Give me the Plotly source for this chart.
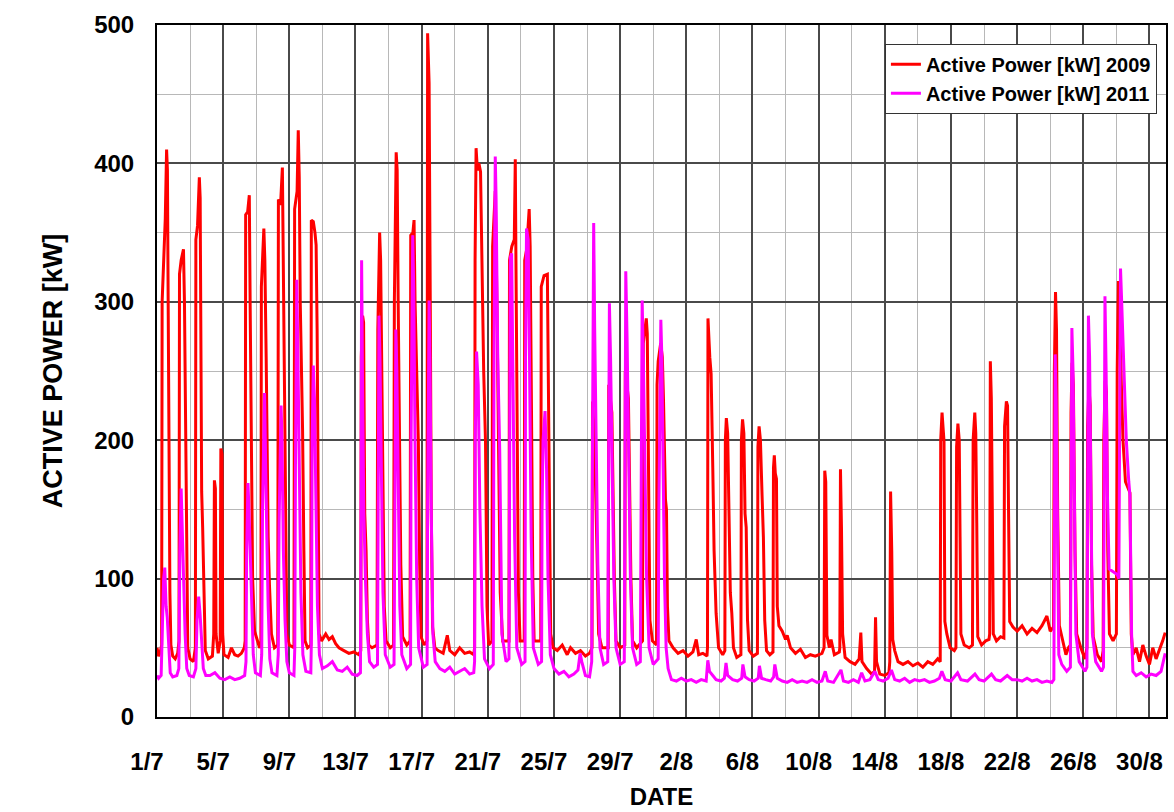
import plotly.graph_objects as go

# x = days since 1 July (0 = 1/7 00:00), y = active power [kW]
tick_days = [0, 4, 8, 12, 16, 20, 24, 28, 32, 36, 40, 44, 48, 52, 56, 60]
tick_labels = ["1/7", "5/7", "9/7", "13/7", "17/7", "21/7", "25/7", "29/7",
               "2/8", "6/8", "10/8", "14/8", "18/8", "22/8", "26/8", "30/8"]
minor_days = [2, 6, 10, 14, 18, 22, 26, 30, 34, 38, 42, 46, 50, 54, 58]

power_2009 = [
(0.00,50),(0.10,44),(0.20,47),(0.28,52),(0.31,300),(0.40,335),(0.50,360),(0.58,410),(0.63,395),(0.68,290),(0.73,170),(0.78,90),(0.84,52),(0.95,44),(1.10,42),(1.25,46),
(1.33,55),(1.36,320),(1.46,330),(1.60,338),(1.66,300),(1.72,230),(1.78,110),(1.86,50),(2.00,42),(2.20,40),(2.32,50),
(2.35,345),(2.45,355),(2.56,390),(2.61,375),(2.70,163),(2.76,137),(2.84,80),(2.92,48),(3.10,42),(3.35,44),
(3.43,60),(3.47,171),(3.53,165),(3.57,60),(3.70,46),(3.82,55),(3.86,194),(3.93,190),(3.97,60),(4.05,45),(4.30,43),(4.50,50),(4.70,45),(4.90,44),(5.10,46),(5.28,50),
(5.33,55),(5.36,363),(5.48,365),(5.58,377),(5.63,300),(5.70,169),(5.78,100),(5.90,62),(6.05,55),(6.20,50),(6.28,52),
(6.31,311),(6.46,353),(6.52,330),(6.60,260),(6.66,190),(6.72,130),(6.80,95),(6.92,60),(7.10,50),(7.30,52),
(7.34,374),(7.47,370),(7.58,397),(7.63,330),(7.70,210),(7.76,120),(7.85,60),(8.00,52),(8.28,50),
(8.32,367),(8.47,380),(8.54,424),(8.60,390),(8.66,300),(8.80,208),(8.88,120),(8.95,55),(9.10,50),(9.30,52),
(9.33,359),(9.45,358),(9.55,350),(9.62,341),(9.68,280),(9.74,150),(9.80,60),(9.95,55),(10.20,60),(10.40,56),(10.60,58),(10.80,53),(11.00,50),(11.30,48),(11.60,46),(11.90,47),(12.20,45),
(12.32,48),(12.35,260),(12.43,290),(12.49,285),(12.56,147),(12.64,120),(12.72,70),(12.80,52),(13.00,50),(13.30,52),
(13.35,280),(13.46,350),(13.52,330),(13.60,240),(13.66,150),(13.74,80),(13.85,55),(14.10,50),(14.30,52),
(14.35,300),(14.46,408),(14.52,395),(14.58,300),(14.66,200),(14.74,110),(14.85,58),(15.10,52),(15.30,55),
(15.34,348),(15.47,350),(15.54,359),(15.60,300),(15.70,240),(15.80,199),(15.88,110),(15.96,58),(16.15,52),(16.32,55),
(16.36,494),(16.45,458),(16.52,300),(16.58,150),(16.66,65),(16.80,50),(17.00,48),(17.30,46),(17.55,59),(17.70,48),(18.00,45),(18.30,50),(18.60,46),(18.90,47),(19.15,45),
(19.20,50),(19.23,330),(19.29,411),(19.37,395),(19.46,400),(19.56,394),(19.64,329),(19.75,250),(19.86,199),(19.95,80),(20.05,52),
(20.25,55),(20.29,340),(20.45,380),(20.55,300),(20.65,200),(20.75,90),(20.90,55),
(21.28,55),(21.31,330),(21.45,340),(21.60,345),(21.66,403),(21.70,330),(21.76,200),(21.85,90),(21.95,55),
(22.20,55),(22.23,330),(22.35,338),(22.50,367),(22.56,340),(22.64,221),(22.72,100),(22.80,55),
(23.20,55),(23.23,311),(23.40,319),(23.60,320),(23.66,250),(23.72,150),(23.80,60),(23.95,50),(24.20,48),(24.50,52),(24.80,45),(25.00,50),(25.30,46),(25.60,48),(25.90,44),(26.15,46),
(26.30,50),(26.33,228),(26.45,200),(26.60,120),(26.70,60),(26.90,50),
(27.28,50),(27.31,240),(27.50,220),(27.65,100),(27.75,55),(28.00,50),
(28.28,52),(28.31,250),(28.50,230),(28.65,100),(28.75,55),(29.00,50),
(29.35,55),(29.40,270),(29.58,288),(29.64,277),(29.72,150),(29.80,70),(29.95,55),
(30.20,52),(30.23,240),(30.30,257),(30.45,270),(30.55,260),(30.62,230),(30.74,157),(30.80,150),(30.86,80),(30.95,55),
(31.20,50),(31.50,46),(31.80,48),(32.10,44),(32.40,47),(32.60,56),(32.75,45),(33.00,46),(33.25,44),
(33.28,50),(33.31,288),(33.42,260),(33.50,248),(33.60,180),(33.68,120),(33.80,75),(33.95,50),(34.20,45),(34.33,48),
(34.36,200),(34.42,216),(34.50,205),(34.58,140),(34.66,90),(34.75,75),(34.85,50),(35.05,43),(35.30,45),
(35.33,200),(35.40,215),(35.48,205),(35.55,147),(35.62,137),(35.70,70),(35.80,48),(36.05,44),(36.30,46),
(36.33,195),(36.40,210),(36.48,200),(36.58,160),(36.66,130),(36.74,70),(36.85,48),(37.05,45),(37.24,47),
(37.27,180),(37.32,189),(37.38,176),(37.45,172),(37.50,80),(37.60,66),(37.80,62),(38.00,56),(38.10,59),(38.30,50),(38.60,46),(38.90,49),(39.20,43),(39.50,45),(39.80,44),(40.20,46),
(40.33,50),(40.37,178),(40.43,170),(40.50,59),(40.65,50),(40.75,56),(40.95,45),(41.25,47),
(41.28,50),(41.32,179),(41.38,137),(41.45,60),(41.60,43),(41.90,40),(42.20,38),(42.45,42),(42.55,61),(42.62,40),(42.90,35),(43.20,31),(43.38,33),(43.44,72),(43.50,40),(43.70,31),(44.00,30),(44.25,32),
(44.30,40),(44.35,163),(44.42,120),(44.48,56),(44.60,48),(44.80,40),(45.10,38),(45.40,40),(45.70,37),(46.00,39),(46.30,36),(46.60,40),(46.90,38),(47.20,42),(47.35,40),
(47.38,200),(47.46,220),(47.53,210),(47.58,199),(47.63,69),(47.75,60),(47.95,50),(48.20,48),(48.30,50),
(48.34,195),(48.42,212),(48.50,200),(48.55,130),(48.60,60),(48.80,52),(49.10,50),(49.30,52),
(49.34,200),(49.44,220),(49.50,205),(49.56,140),(49.62,58),(49.85,52),(50.10,55),(50.30,56),
(50.34,60),(50.38,257),(50.44,230),(50.50,150),(50.56,60),(50.75,55),(51.00,58),(51.20,57),
(51.24,210),(51.35,228),(51.42,225),(51.48,150),(51.55,69),(51.75,65),(52.00,62),(52.30,66),(52.60,60),(52.90,64),(53.20,61),(53.50,66),(53.80,73),(54.00,62),(54.20,65),
(54.25,250),(54.32,307),(54.38,280),(54.45,150),(54.55,66),(54.75,55),(54.95,45),(55.10,50),(55.22,52),
(55.26,220),(55.32,256),(55.40,240),(55.50,120),(55.60,60),(55.85,50),(56.10,42),(56.22,50),
(56.26,210),(56.34,238),(56.42,225),(56.50,110),(56.60,58),(56.85,45),(57.10,40),(57.20,48),
(57.24,200),(57.32,243),(57.40,235),(57.48,120),(57.58,60),(57.80,55),(58.00,60),(58.05,250),(58.12,315),(58.20,300),(58.30,240),(58.40,200),(58.55,170),(58.75,165),(58.82,162),(58.90,60),(59.00,45),(59.20,50),(59.40,40),(59.60,52),(59.80,44),(60.00,38),(60.20,50),(60.40,42),(60.60,48),(60.80,55),(60.95,61),
]

power_2011 = [
(0.00,30),(0.10,28),(0.25,30),(0.30,60),(0.40,100),(0.47,108),(0.55,80),(0.62,72),(0.70,55),(0.80,32),(0.95,29),(1.20,30),
(1.32,35),(1.38,120),(1.46,165),(1.52,140),(1.60,90),(1.70,60),(1.80,35),(1.95,30),(2.20,29),
(2.35,35),(2.42,70),(2.52,87),(2.60,75),(2.70,55),(2.80,35),(2.95,30),(3.20,30),(3.50,32),(3.80,28),(4.10,27),(4.40,29),(4.70,27),(5.00,28),(5.30,30),
(5.38,40),(5.42,120),(5.50,169),(5.56,150),(5.64,117),(5.72,80),(5.82,45),(5.95,32),(6.25,30),
(6.33,45),(6.38,150),(6.50,234),(6.56,200),(6.64,130),(6.72,80),(6.82,42),(6.95,32),(7.25,30),
(7.33,45),(7.38,140),(7.50,225),(7.56,200),(7.64,120),(7.74,70),(7.85,40),(8.00,32),(8.28,30),
(8.33,50),(8.37,180),(8.45,316),(8.52,260),(8.60,160),(8.70,90),(8.82,45),(9.00,33),(9.30,32),
(9.34,60),(9.38,200),(9.45,254),(9.52,230),(9.60,150),(9.70,80),(9.82,45),(10.00,35),(10.30,37),(10.60,40),(10.90,34),(11.20,33),(11.50,36),(11.80,31),(12.10,30),(12.30,32),
(12.33,120),(12.37,330),(12.42,250),(12.50,150),(12.60,100),(12.72,60),(12.85,40),(13.10,36),(13.33,38),
(13.36,150),(13.42,290),(13.48,260),(13.56,160),(13.66,90),(13.80,45),(14.10,36),(14.33,38),
(14.36,150),(14.44,280),(14.50,250),(14.58,160),(14.68,80),(14.80,45),(15.10,35),(15.33,38),
(15.36,200),(15.46,348),(15.52,310),(15.60,200),(15.70,100),(15.82,50),(16.10,36),(16.33,38),
(16.36,150),(16.45,301),(16.50,260),(16.58,150),(16.68,60),(16.82,40),(17.10,35),(17.40,33),(17.70,36),(18.00,31),(18.30,33),(18.60,35),(18.90,31),(19.15,32),
(19.20,40),(19.24,200),(19.32,264),(19.42,240),(19.52,150),(19.65,80),(19.80,42),(20.10,35),(20.33,38),
(20.37,250),(20.45,405),(20.50,374),(20.60,260),(20.72,192),(20.85,60),(21.10,40),(21.28,42),
(21.31,250),(21.36,332),(21.44,335),(21.52,250),(21.62,130),(21.75,50),(22.05,38),(22.25,40),
(22.28,260),(22.34,353),(22.44,345),(22.52,260),(22.62,130),(22.75,50),(23.05,38),(23.25,40),
(23.28,150),(23.34,200),(23.46,221),(23.55,180),(23.64,100),(23.78,45),(24.00,35),(24.30,31),(24.60,33),(24.90,29),(25.20,31),(25.45,34),(25.58,46),(25.68,40),(25.90,30),(26.15,29),
(26.28,40),(26.33,200),(26.40,357),(26.46,281),(26.55,200),(26.65,110),(26.78,50),(27.00,38),(27.25,40),
(27.28,150),(27.35,299),(27.42,260),(27.50,200),(27.62,100),(27.75,50),(28.00,38),(28.25,40),
(28.28,150),(28.34,322),(28.42,273),(28.52,200),(28.62,100),(28.75,50),(29.00,38),(29.22,40),
(29.25,150),(29.33,301),(29.40,260),(29.50,180),(29.60,100),(29.75,50),(30.00,38),(30.30,42),
(30.34,150),(30.46,287),(30.52,260),(30.60,180),(30.68,100),(30.78,50),(30.90,35),(31.10,27),(31.40,26),(31.70,28),(32.00,26),(32.30,27),(32.60,25),(32.90,27),(33.20,26),
(33.30,41),(33.40,33),(33.60,30),(33.80,27),(34.10,26),(34.30,28),(34.40,39),(34.50,30),(34.80,27),(35.10,26),(35.35,28),(35.42,38),(35.55,29),(35.80,27),(36.10,26),(36.35,28),(36.42,37),(36.55,28),(36.80,27),(37.10,26),(37.28,29),(37.35,38),(37.50,28),(37.80,26),(38.10,25),(38.40,27),(38.70,25),(39.00,26),(39.30,25),(39.60,27),(39.90,25),(40.20,26),
(40.40,33),(40.55,26),(40.90,25),(41.35,34),(41.50,26),(41.80,25),(42.10,27),(42.40,25),(42.60,32),(42.80,26),(43.10,27),(43.40,33),(43.60,27),(43.90,26),(44.20,28),(44.40,34),(44.60,27),(44.90,26),(45.20,28),(45.50,25),(45.80,27),(46.10,26),(46.40,27),(46.70,25),(47.00,26),(47.30,28),
(47.45,33),(47.65,27),(48.00,26),(48.40,32),(48.60,27),(49.00,26),(49.45,31),(49.70,27),(50.00,26),(50.45,31),(50.70,27),(51.00,26),(51.40,30),(51.70,27),(52.00,27),(52.30,26),(52.60,28),(52.90,26),(53.20,27),(53.50,25),(53.80,26),(54.10,25),(54.22,27),
(54.25,150),(54.30,262),(54.36,230),(54.44,120),(54.52,45),(54.70,38),(55.00,33),(55.22,36),
(55.25,200),(55.31,281),(55.38,250),(55.46,150),(55.55,60),(55.75,40),(56.10,33),(56.22,36),
(56.25,200),(56.31,290),(56.38,260),(56.46,150),(56.55,60),(56.75,40),(57.10,33),(57.22,36),
(57.25,200),(57.31,304),(57.38,250),(57.46,160),(57.56,107),(57.80,105),(58.05,103),(58.15,100),(58.20,200),(58.25,324),(58.32,300),(58.45,250),(58.60,200),(58.75,170),(58.82,160),(58.92,60),(59.00,33),(59.20,30),(59.50,32),(59.80,29),(60.10,31),(60.40,30),(60.70,33),(60.95,46),
]

day_2009 = [p[0] for p in power_2009]
kw_2009 = [p[1] for p in power_2009]
day_2011 = [p[0] for p in power_2011]
kw_2011 = [p[1] for p in power_2011]

FONT = "Liberation Sans, Arial, sans-serif"

fig = go.Figure()
fig.add_trace(go.Scatter(x=day_2009, y=kw_2009, mode="lines",
                         name="Active Power [kW] 2009",
                         line=dict(color="#ff0000", width=3)))
fig.add_trace(go.Scatter(x=day_2011, y=kw_2011, mode="lines",
                         name="Active Power [kW] 2011",
                         line=dict(color="#ff00ff", width=3)))

fig.update_layout(
    width=1174, height=812,
    margin=dict(l=157, r=6, t=25, b=89),
    paper_bgcolor="white", plot_bgcolor="white",
    font=dict(family=FONT, color="black"),
    showlegend=True,
    legend=dict(x=0.991, xanchor="right", y=0.973, yanchor="top",
                bgcolor="white", bordercolor="#333333", borderwidth=1,
                font=dict(size=20, family=FONT, weight="bold", color="black")),
)

fig.update_xaxes(
    range=[0, 61], tickmode="array", tickvals=tick_days, ticktext=tick_labels,
    showgrid=True, gridcolor="#4a4a4a", gridwidth=1.5,
    minor=dict(tickmode="array", tickvals=minor_days, showgrid=True,
               gridcolor="#b8b8b8", gridwidth=1),
    showline=True, linecolor="black", linewidth=2, mirror=True,
    ticks="", zeroline=False,
    tickfont=dict(size=24, family=FONT, weight="bold", color="black"),
    ticklabelstandoff=22, ticklabelshift=-10,
    title=dict(text="DATE", standoff=14,
               font=dict(size=24, family=FONT, weight="bold", color="black")),
)
fig.update_yaxes(
    range=[0, 500], tickmode="linear", tick0=0, dtick=100,
    showgrid=True, gridcolor="#4a4a4a", gridwidth=1.5,
    minor=dict(tickmode="linear", tick0=0, dtick=50, showgrid=True,
               gridcolor="#b8b8b8", gridwidth=1),
    showline=True, linecolor="black", linewidth=2, mirror=True,
    ticks="", zeroline=False,
    tickfont=dict(size=24, family=FONT, weight="bold", color="black"),
    ticklabelstandoff=16,
    title=dict(text="ACTIVE POWER [kW]", standoff=24,
               font=dict(size=27, family=FONT, weight="bold", color="black")),
)

fig.write_html("out.html")
